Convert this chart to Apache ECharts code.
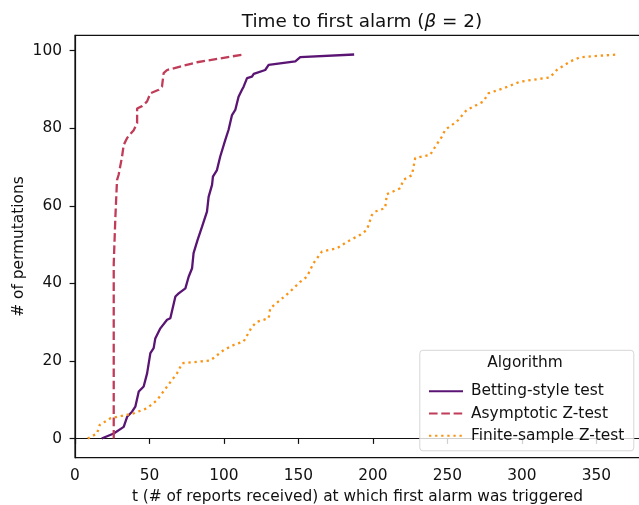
<!DOCTYPE html>
<html>
<head>
<meta charset="utf-8">
<script src="https://cdn.jsdelivr.net/npm/echarts@6/dist/echarts.min.js"></script>
<style>html,body{margin:0;padding:0;background:#fff;}#c{width:639px;height:505px;}</style>
</head>
<body>
<div id="c"></div>
<script>
// ---- data ----
const seriesNames = ['Betting-style test', 'Asymptotic Z-test', 'Finite-sample Z-test'];

const bettingT = [17.9, 26, 32.7, 35, 38.3, 40.5, 42.8, 46.1, 48.4, 50.6, 52.8, 53.9, 57.3, 61.8, 64, 67.4, 69.6, 74.1, 76.3, 78.6, 79.6, 82.3, 85.3, 88.6, 89.7, 92, 92.6, 95.3, 97.5, 100.9, 103.1, 105.4, 107.6, 109.8, 112.1, 113.2, 115.5, 118.8, 120, 127.7, 130, 147.9, 151.2, 187.4];
const bettingN = [0, 1.3, 3, 5.6, 6.9, 8.2, 12.1, 13.4, 16.8, 22, 23.3, 25.8, 28.4, 30.6, 31, 36.6, 37.4, 38.7, 41.7, 43.9, 47.8, 51.2, 54.6, 58.5, 62.3, 65.4, 67.5, 69.2, 72.7, 77, 79.6, 83.4, 84.7, 88.1, 89.9, 90.7, 92.9, 93.3, 94, 95, 96.3, 97.2, 98.3, 99];

const asymT = [26, 26, 27.1, 28.2, 29.3, 31.6, 32.7, 35, 39.4, 41.7, 41.7, 45, 48.4, 50.6, 56.2, 58.4, 59.5, 61.8, 81.9, 113];
const asymN = [0, 45, 57, 66.6, 68, 72.7, 75.7, 77.5, 79.5, 81.3, 85.1, 85.7, 86.9, 89, 89.9, 90.7, 94.2, 95, 97, 99];

const finiteT = [8.5, 14.8, 16.6, 23.7, 39.4, 48.4, 55.1, 61.8, 68.5, 71.9, 90.8, 99.8, 106.5, 113.2, 118.8, 122.2, 130, 131.1, 137.8, 144.5, 151.2, 155.7, 160.1, 165.8, 175.8, 182.5, 191.5, 196, 199.3, 201.5, 208.2, 209.4, 218.3, 220.5, 226.2, 228.4, 238.4, 241.8, 246.3, 248.5, 256.3, 263, 274.2, 277.5, 287.6, 298.8, 318.9, 323.4, 332.4, 339.1, 363.7];
const finiteN = [0, 1.3, 3.5, 5.2, 6.5, 7.8, 9.9, 13.4, 16.8, 19.4, 20.1, 22.8, 24.1, 25, 28.8, 30.1, 31, 33.6, 35.7, 37.9, 40.4, 41.7, 45.2, 48.2, 49, 50.7, 52.5, 53.8, 57.6, 58.5, 59.4, 63, 64.5, 66.7, 67.9, 72.3, 73.1, 75.2, 77.8, 79.6, 81.7, 84.7, 86.9, 89, 90.3, 92, 93.1, 95, 97.2, 98.3, 99];

const xTicks = [0, 50, 100, 150, 200, 250, 300, 350];
const yTicks = [0, 20, 40, 60, 80, 100];
// --------------------------------------

const pairs = (t, n) => t.map((v, i) => [v, n[i]]);
const colors = ['#5a1473', '#c03c58', '#fa9415'];
const FONT = 'DejaVu Sans';
const FS = 15.4;
const TXT = '#111';

const chart = echarts.init(document.getElementById('c'), null, {renderer: 'canvas'});
chart.setOption({
  animation: false,
  backgroundColor: '#fff',
  textStyle: {fontFamily: FONT},
  title: {
    text: '{n|Time to first alarm (}{i|β}{n| = 2)}',
    left: 357, top: 8, textAlign: 'center',
    textStyle: {
      fontWeight: 'normal',
      rich: {
        n: {fontFamily: FONT, fontSize: 18.4, color: TXT, fontWeight: 'normal'},
        i: {fontFamily: FONT, fontSize: 18.4, color: TXT, fontWeight: 'normal', fontStyle: 'italic'}
      }
    }
  },
  grid: {left: 75, right: -1, top: 35.3, bottom: 47.3, show: true, borderColor: '#111', borderWidth: 1.2,
         containLabel: false, outerBoundsMode: 'none'},
  xAxis: {
    type: 'value', min: 0, max: 379.3,
    name: 't (# of reports received) at which first alarm was triggered',
    nameLocation: 'middle', nameGap: 32, nameMoveOverlap: false,
    nameTextStyle: {fontFamily: FONT, fontSize: FS, color: TXT},
    axisLine: {show: true, lineStyle: {color: '#111', width: 1.2}},
    axisTick: {show: true, length: 5.4, lineStyle: {color: '#111', width: 1.2}, customValues: xTicks},
    axisLabel: {fontFamily: FONT, fontSize: FS, color: TXT, margin: 11, customValues: xTicks},
    splitLine: {show: false}
  },
  yAxis: {
    type: 'value', min: -4.95, max: 103.95,
    name: '# of permutations',
    nameLocation: 'middle', nameGap: 49, nameMoveOverlap: false,
    nameTextStyle: {fontFamily: FONT, fontSize: FS, color: TXT},
    axisLine: {show: true, lineStyle: {color: '#111', width: 1.2}},
    axisTick: {show: true, length: 5.4, lineStyle: {color: '#111', width: 1.2}, customValues: yTicks},
    axisLabel: {fontFamily: FONT, fontSize: FS, color: TXT, margin: 13, customValues: yTicks},
    splitLine: {show: false}
  },
  legend: {
    orient: 'vertical', left: 423, top: 378.7, z: 20,
    itemWidth: 34, itemHeight: 16, itemGap: 7.3,
    itemStyle: {opacity: 0},
    textStyle: {fontFamily: FONT, fontSize: FS, color: TXT, padding: [0, 0, 0, 3]},
    data: seriesNames
  },
  graphic: [
    {type: 'rect', left: 419.3, top: 349.8, z: 10,
     shape: {width: 214, height: 100.5, r: 3},
     style: {fill: 'rgba(255,255,255,0.8)', stroke: '#d6d6d6', lineWidth: 1}},
    {type: 'text', x: 525, y: 363.3, z: 21,
     style: {text: 'Algorithm', font: FS + 'px "DejaVu Sans"', fill: TXT, align: 'center', verticalAlign: 'middle'}}
  ],
  series: [
    {name: seriesNames[0], type: 'line', data: pairs(bettingT, bettingN), showSymbol: false, symbol: 'none',
     lineStyle: {color: colors[0], width: 2.3}, itemStyle: {color: colors[0]}, z: 3},
    {name: seriesNames[1], type: 'line', data: pairs(asymT, asymN), showSymbol: false, symbol: 'none',
     lineStyle: {color: colors[1], width: 2.3, type: [8.6, 3.7]}, itemStyle: {color: colors[1]}, z: 3},
    {name: seriesNames[2], type: 'line', data: pairs(finiteT, finiteN), showSymbol: false, symbol: 'none',
     lineStyle: {color: colors[2], width: 2.3, type: [2.3, 3.8]}, itemStyle: {color: colors[2]}, z: 3}
  ]
});
</script>
</body>
</html>
